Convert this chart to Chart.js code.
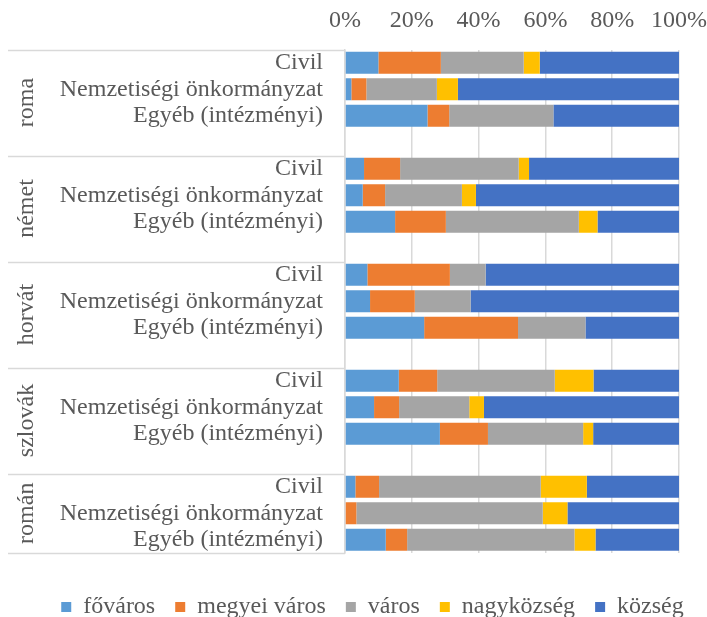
<!DOCTYPE html>
<html><head><meta charset="utf-8">
<script src="https://cdn.jsdelivr.net/npm/chart.js@4"></script>
<style>html,body{margin:0;padding:0;background:#fff}#wrap{width:707px;height:617px;position:relative}</style>
</head><body><div id="wrap"><canvas id="c" width="707" height="617"></canvas></div>
<script>
const groups = ['roma', 'német', 'horvát', 'szlovák', 'román'];
const subcats = ['Civil', 'Nemzetiségi önkormányzat', 'Egyéb (intézményi)'];
const seriesNames = ['főváros', 'megyei város', 'város', 'nagyközség', 'község'];
const colors = ['#5B9BD5', '#ED7D31', '#A5A5A5', '#FFC000', '#4472C4'];
const tickLabels = ['0%', '20%', '40%', '60%', '80%', '100%'];
// values per row: roma(C,N,E), német(C,N,E), horvát(C,N,E), szlovák(C,N,E), román(C,N,E)
const fovaros     = [10.0, 1.9, 24.7,  5.7, 5.3, 15.0,  6.7, 7.5, 23.7, 16.1, 8.7, 28.4,  3.1, 0.0, 12.2];
const megyeiVaros = [18.7, 4.5,  6.5, 10.8, 6.7, 15.2, 24.7,13.4, 28.1, 11.5, 7.5, 14.4,  7.1, 3.4,  6.4];
const varos       = [24.8,21.1, 31.2, 35.5,23.0, 39.8, 10.7,16.7, 20.2, 35.2,21.0, 28.5, 48.4,55.8, 50.1];
const nagykozseg  = [ 4.8, 6.3,  0.0,  3.1, 4.2,  5.6,  0.0, 0.0,  0.0, 11.6, 4.4,  3.0, 13.8, 7.4,  6.3];
const kozseg      = [41.7,66.2, 37.6, 44.9,60.8, 24.4, 57.9,62.4, 28.0, 25.6,58.4, 25.7, 27.6,33.4, 25.0];
const seriesValues = [fovaros, megyeiVaros, varos, nagykozseg, kozseg];

const FONT = '"Liberation Serif", "Times New Roman", serif';
const TXT = '#595959';
const GRID = '#D9D9D9';

const labels = [];
const rowIndex = [];
const groupStarts = [];
groups.forEach((g, gi) => {
  groupStarts.push(labels.length);
  subcats.forEach((s, si) => { labels.push(s); rowIndex.push(gi * subcats.length + si); });
  if (gi < groups.length - 1) { labels.push(''); rowIndex.push(null); }
});

const datasets = seriesNames.map((name, k) => ({
  label: name,
  data: rowIndex.map(r => r === null ? null : seriesValues[k][r]),
  backgroundColor: colors[k],
  borderWidth: 0,
  barPercentage: 0.83,
  categoryPercentage: 1
}));

const LEGEND_H = 64, LEGEND_DX = 19, LEGEND_DY = 22;

const groupPlugin = {
  id: 'groupPlugin',
  afterInit(chart) {
    const lg = chart.legend;
    if (!lg) return;
    const fit = lg.fit;
    lg.fit = function () { fit.call(this); this.height = LEGEND_H; };
    const draw = lg.draw;
    lg.draw = function () {
      const ctx = this.ctx; ctx.save(); ctx.translate(LEGEND_DX, LEGEND_DY); draw.apply(this, arguments); ctx.restore();
    };
  },
  afterDraw(chart) {
    const y = chart.scales.y;
    const ctx = chart.ctx;
    const slot = y.getPixelForValue(1) - y.getPixelForValue(0);
    const left = chart.chartArea.left;
    ctx.save();
    ctx.strokeStyle = GRID;
    ctx.lineWidth = 1.5;
    const bounds = [];
    groupStarts.forEach((s, gi) => {
      const end = gi < groups.length - 1 ? groupStarts[gi + 1] - 1 : labels.length - 1;
      const top = y.getPixelForValue(s) - slot / 2;
      const bot = y.getPixelForValue(end) + slot / 2;
      bounds.push(top); if (gi === groups.length - 1) bounds.push(bot);
      ctx.save();
      ctx.translate(27, (top + bot) / 2);
      ctx.rotate(-Math.PI / 2);
      ctx.fillStyle = TXT;
      ctx.font = '24px ' + FONT;
      ctx.textAlign = 'center';
      ctx.textBaseline = 'middle';
      ctx.fillText(groups[gi], 0, 0);
      ctx.restore();
    });
    bounds.forEach(b => {
      ctx.beginPath(); ctx.moveTo(8, Math.round(b) + 0.5); ctx.lineTo(left, Math.round(b) + 0.5); ctx.stroke();
    });
    ctx.restore();
  }
};

new Chart(document.getElementById('c'), {
  type: 'bar',
  data: { labels, datasets },
  options: {
    indexAxis: 'y',
    responsive: false,
    animation: false,
    devicePixelRatio: 1,
    layout: { padding: { left: 0, right: 0, top: 0, bottom: 0 } },
    plugins: {
      legend: {
        position: 'bottom',
        labels: { boxWidth: 10, boxHeight: 10, padding: 20, color: TXT, font: { family: FONT, size: 24 } }
      },
      tooltip: { enabled: false }
    },
    scales: {
      x: {
        position: 'top', stacked: true, min: 0, max: 100,
        afterFit(s) { s.height = 49.5; },
        ticks: { stepSize: 20, padding: 0, color: TXT, font: { family: FONT, size: 24 },
                 callback: (v, i) => tickLabels[i] },
        grid: { color: GRID, lineWidth: 1.5, drawTicks: true, tickLength: 14, tickColor: 'rgba(0,0,0,0)' },
        border: { display: false }
      },
      y: {
        stacked: true,
        afterFit(s) { s.width = 345; },
        ticks: { autoSkip: false, padding: 22, color: TXT, font: { family: FONT, size: 24 } },
        grid: { display: false, drawTicks: false },
        border: { display: true, color: GRID, width: 1.5 }
      }
    }
  },
  plugins: [groupPlugin]
});
</script></body></html>
